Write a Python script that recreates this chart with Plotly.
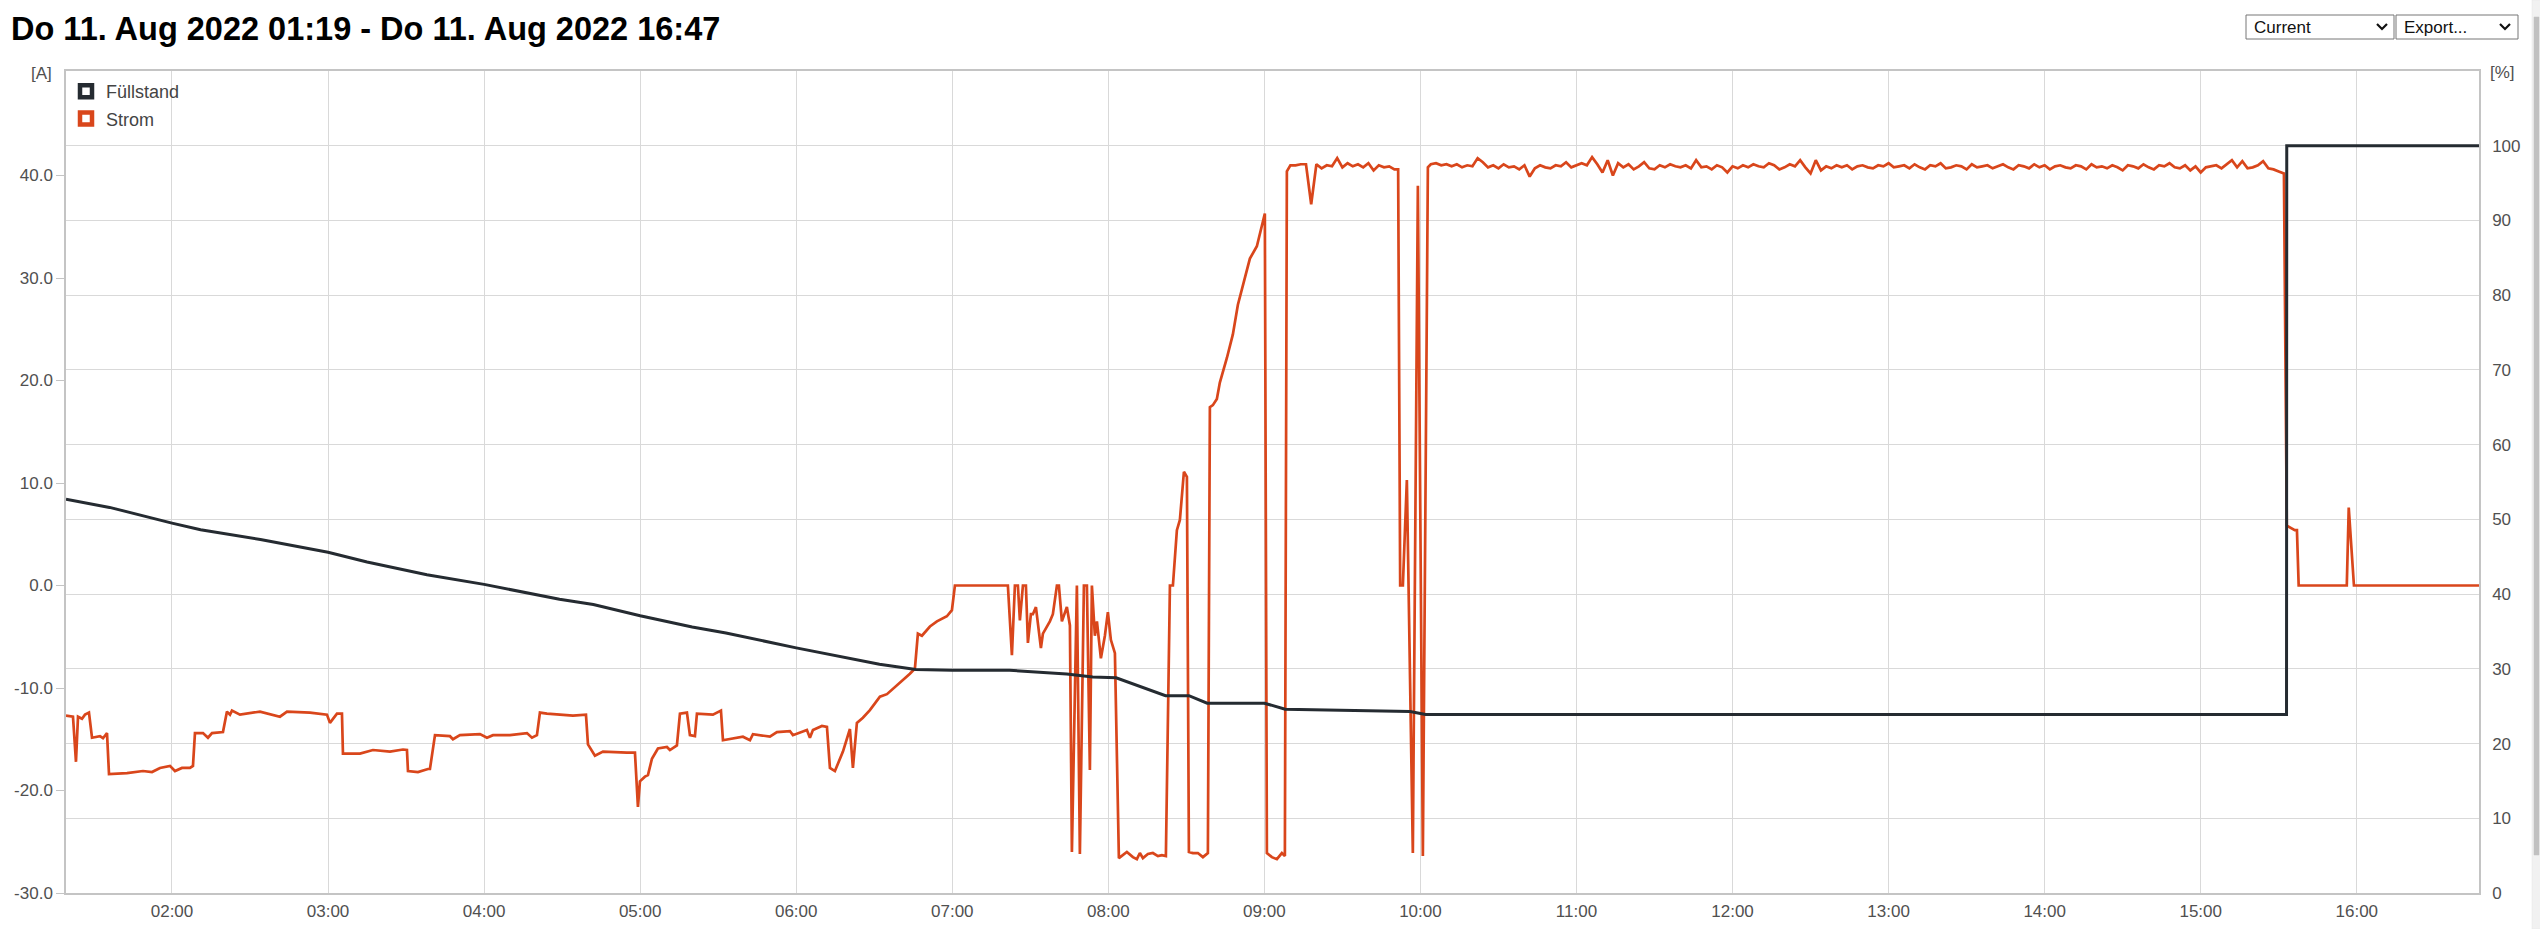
import plotly.graph_objects as go
import pandas as pd

DAY = "2022-08-11 "

# ---------------- data ----------------
fuell_time = ["01:19:15", "01:36:00", "02:00:00", "02:11:00", "02:34:00", "03:00:00", "03:15:00",
              "03:38:00", "04:00:00", "04:29:00", "04:42:00", "05:00:00", "05:20:00", "05:33:00",
              "06:00:00", "06:21:00", "06:32:00", "06:46:00", "07:00:00", "07:22:00", "07:44:00",
              "07:54:00", "08:03:00", "08:22:00", "08:31:00", "08:38:00", "09:00:00", "09:08:00",
              "09:56:00", "10:02:00", "15:33:00", "15:33:05", "16:47:00"]
fuell_value = [52.7, 51.6, 49.5, 48.6, 47.3, 45.6, 44.3,
               42.6, 41.3, 39.3, 38.6, 37.1, 35.6, 34.8,
               32.8, 31.3, 30.6, 29.9, 29.8, 29.8, 29.3,
               28.9, 28.8, 26.4, 26.4, 25.4, 25.4, 24.6,
               24.3, 23.9, 23.9, 100.0, 100.0]

strom_early_time = [
    "01:19:15", "01:21:56", "01:23:05", "01:23:52", "01:25:24", "01:26:33", "01:28:05", "01:29:15",
    "01:32:19", "01:33:28", "01:35:01", "01:35:47", "01:42:42", "01:48:51", "01:52:19", "01:55:23",
    "01:59:14", "02:01:09", "02:03:50", "02:06:55", "02:08:04", "02:08:50", "02:11:55", "02:13:50",
    "02:15:23", "02:19:36", "02:21:08", "02:22:18", "02:23:04", "02:26:08", "02:33:50", "02:41:31",
    "02:44:13", "02:53:03", "02:59:35", "03:00:44", "03:03:26", "03:05:21", "03:05:44", "03:12:17",
    "03:17:16", "03:23:49", "03:28:49", "03:30:20", "03:30:44", "03:34:34", "03:38:25", "03:39:11",
    "03:41:07", "03:46:52", "03:48:02", "03:50:43", "03:58:25", "04:01:06", "04:03:25", "04:09:56",
    "04:16:29", "04:18:24", "04:20:19", "04:21:28", "04:24:10", "04:29:10", "04:34:10", "04:39:10",
    "04:39:56", "04:42:37", "04:45:42", "04:54:55", "04:58:00", "04:59:09", "04:59:55", "05:01:50",
    "05:03:00", "05:04:32", "05:06:50", "05:10:18", "05:11:27", "05:14:08", "05:15:18", "05:17:59",
    "05:19:08", "05:21:04", "05:21:50", "05:27:59", "05:31:04", "05:31:50", "05:39:31", "05:42:13",
    "05:43:22", "05:49:54", "05:52:35", "05:57:35", "05:58:44", "06:04:07", "06:05:16", "06:06:26",
    "06:09:53", "06:11:49", "06:12:58", "06:14:53", "06:17:58", "06:20:39", "06:21:48", "06:23:20",
    "06:25:39", "06:28:20", "06:32:11", "06:34:53", "06:37:11", "06:41:02", "06:43:43", "06:45:38",
    "06:46:47", "06:48:20", "06:51:25", "06:54:06", "06:57:56", "06:59:52", "07:01:01", "07:21:23",
    "07:22:56", "07:24:05", "07:25:14", "07:26:00", "07:27:10", "07:28:19", "07:29:05", "07:30:14",
    "07:31:00", "07:32:10", "07:34:05", "07:34:51", "07:37:32", "07:38:41", "07:40:14", "07:41:00",
    "07:42:09", "07:44:04", "07:45:14", "07:46:00", "07:47:55", "07:49:04", "07:50:37", "07:51:46",
    "07:52:55", "07:53:41", "07:54:50", "07:55:37", "07:57:09", "07:58:41", "07:59:50", "08:00:59",
    "08:02:32", "08:04:04", "08:07:08", "08:09:27", "08:10:59", "08:12:08", "08:13:18", "08:15:13",
    "08:17:08", "08:19:04", "08:20:36", "08:22:08", "08:23:41", "08:24:50", "08:26:22", "08:27:31",
    "08:29:04", "08:30:13", "08:30:59", "08:32:31", "08:34:26", "08:36:22", "08:38:17", "08:39:03",
    "08:40:12", "08:41:44", "08:42:53", "08:45:35", "08:47:53", "08:49:49", "08:51:44", "08:54:26",
    "08:57:07", "08:58:16", "09:00:11", "09:00:58", "09:02:53", "09:04:49", "09:06:44", "09:07:53",
    "09:08:39"]
strom_early_value = [
    -12.7, -12.8, -17.2, -12.8, -13.0, -12.6, -12.4, -14.85,
    -14.7, -14.9, -14.4, -18.4, -18.3, -18.1, -18.2, -17.8,
    -17.6, -18.1, -17.8, -17.8, -17.6, -14.4, -14.4, -14.85,
    -14.4, -14.3, -12.3, -12.6, -12.2, -12.6, -12.3, -12.8,
    -12.3, -12.4, -12.6, -13.4, -12.5, -12.5, -16.4, -16.4,
    -16.05, -16.2, -16.0, -16.05, -18.1, -18.2, -17.9, -17.9,
    -14.6, -14.7, -15.0, -14.6, -14.5, -14.85, -14.6, -14.6,
    -14.4, -14.85, -14.6, -12.4, -12.5, -12.6, -12.7, -12.6,
    -15.5, -16.6, -16.2, -16.3, -16.3, -21.6, -19.1, -18.65,
    -18.5, -16.9, -15.9, -15.75, -16.05, -15.6, -12.5, -12.4,
    -14.6, -14.7, -12.5, -12.6, -12.2, -15.1, -14.75, -15.1,
    -14.5, -14.75, -14.3, -14.2, -14.6, -14.1, -14.85, -14.1,
    -13.7, -13.8, -17.8, -18.1, -16.2, -14.0, -17.8, -13.4,
    -12.9, -12.15, -10.85, -10.6, -10.1, -9.2, -8.6, -8.1,
    -4.7, -4.9, -4.0, -3.5, -3.0, -2.4, 0.0, 0.0,
    -6.8, 0.0, 0.0, -3.4, 0.0, 0.0, -5.6, -2.8,
    -2.8, -2.1, -6.1, -4.7, -3.5, -2.8, 0.0, 0.0,
    -3.5, -2.1, -3.9, -26.0, 0.0, -26.2, 0.0, 0.0,
    -18.0, 0.0, -4.9, -3.5, -7.1, -4.9, -2.6, -5.3,
    -6.6, -26.6, -26.0, -26.5, -26.7, -26.1, -26.6, -26.2,
    -26.1, -26.4, -26.3, -26.4, 0.0, 0.0, 5.4, 6.4,
    11.1, 10.6, -26.0, -26.1, -26.1, -26.5, -26.1, 17.4,
    17.6, 18.2, 19.8, 22.2, 24.5, 27.4, 29.3, 31.9,
    33.1, 34.25, 36.3, -26.1, -26.5, -26.7, -26.1, -26.4,
    40.4]

# 2-minute samples, 09:10 - 09:50
strom_band1_start = "09:10:00"
strom_band1_value = [41.0, 41.0, 41.1, 41.1, 37.2, 41.1, 40.7, 41.0, 40.9, 41.7,
                     40.8, 41.2, 40.9, 41.1, 40.8, 41.2, 40.5, 41.0, 40.8, 40.9,
                     40.6]

strom_mid_time = ["09:51:26", "09:52:13", "09:53:15", "09:54:47", "09:57:05", "09:59:01",
                  "10:00:56", "10:02:52"]
strom_mid_value = [40.6, 0.0, 0.0, 10.3, -26.1, 39.0, -26.4, 40.8]

# 2-minute samples, 10:04 - 15:32
strom_band2_start = "10:04:00"
strom_band2_value = [
    41.1, 41.2, 41.0, 41.1, 40.9, 41.1, 40.8, 41.0, 40.9, 41.7,
    41.3, 40.8, 41.0, 40.7, 41.1, 40.8, 40.9, 40.6, 41.0, 39.9,
    40.7, 41.0, 40.8, 40.7, 41.0, 40.9, 41.3, 40.8, 41.0, 41.2,
    41.0, 41.8, 41.1, 40.3, 41.5, 40.0, 41.2, 40.8, 41.1, 40.6,
    40.9, 41.3, 40.7, 40.6, 41.0, 40.8, 41.1, 40.9, 40.8, 41.0,
    40.7, 41.5, 40.8, 40.9, 40.6, 41.0, 40.8, 40.3, 40.9, 40.7,
    41.0, 40.8, 41.1, 40.9, 40.8, 41.2, 41.0, 40.6, 40.8, 41.1,
    40.9, 41.5, 40.8, 40.2, 41.5, 40.5, 40.9, 40.7, 41.0, 40.8,
    41.0, 40.6, 40.9, 41.0, 40.8, 40.7, 41.0, 40.9, 41.2, 40.8,
    40.9, 41.0, 40.7, 41.1, 40.8, 40.6, 41.0, 40.9, 41.2, 40.7,
    40.8, 41.0, 40.9, 40.6, 41.1, 40.8, 40.9, 41.0, 40.7, 40.9,
    41.1, 40.8, 40.6, 41.0, 40.9, 40.7, 41.1, 40.8, 41.0, 40.6,
    40.9, 41.0, 40.8, 40.7, 41.0, 40.9, 40.6, 41.1, 40.8, 40.9,
    40.7, 41.0, 40.8, 40.5, 41.0, 40.9, 40.7, 41.1, 40.8, 40.6,
    41.0, 40.9, 41.2, 40.8, 40.7, 41.0, 40.5, 40.9, 40.3, 40.8,
    40.9, 41.0, 40.7, 41.1, 41.5, 40.8, 41.4, 40.7, 40.8, 41.0,
    41.4, 40.7, 40.6, 40.4, 40.2]

strom_late_time = ["15:33:06", "15:34:20", "15:36:10", "15:37:00", "15:37:40", "15:56:10",
                   "15:56:55", "15:58:55", "16:47:00"]
strom_late_value = [5.85, 5.7, 5.4, 5.4, 0.0, 0.0, 7.6, 0.0, 0.0]

x_tick_labels = ["02:00", "03:00", "04:00", "05:00", "06:00", "07:00", "08:00", "09:00",
                 "10:00", "11:00", "12:00", "13:00", "14:00", "15:00", "16:00"]
left_tick_values = [-30, -20, -10, 0, 10, 20, 30, 40]
left_tick_labels = ["-30.0", "-20.0", "-10.0", "0.0", "10.0", "20.0", "30.0", "40.0"]
right_tick_values = [0, 10, 20, 30, 40, 50, 60, 70, 80, 90, 100]

# ---------------- assemble ----------------
def stamps(lst):
    return [pd.Timestamp(DAY + t) for t in lst]

def regular(start, n):
    return list(pd.date_range(DAY + start, periods=n, freq="2min"))

strom_x = (stamps(strom_early_time) + regular(strom_band1_start, len(strom_band1_value))
           + stamps(strom_mid_time) + regular(strom_band2_start, len(strom_band2_value))
           + stamps(strom_late_time))
strom_y = strom_early_value + strom_band1_value + strom_mid_value + strom_band2_value + strom_late_value

ORANGE = "#d9461b"
DARK = "#252b31"
GRID = "#d9d9d9"
AXIS = "#c4c4c4"
FONT = "Liberation Sans, Arial, sans-serif"
TICKC = "#505050"

W, H = 2540, 929
L, R, T, B = 66, 2479, 71, 893

def px(x):
    return (x - L) / (R - L)

def py(y):
    return (B - y) / (B - T)

fig = go.Figure()
fig.add_trace(go.Scatter(x=strom_x, y=strom_y, mode="lines", name="Strom",
                         line=dict(color=ORANGE, width=2.7), yaxis="y", showlegend=False))
fig.add_trace(go.Scatter(x=stamps(fuell_time), y=fuell_value, mode="lines", name="Füllstand",
                         line=dict(color=DARK, width=3), yaxis="y2", showlegend=False))
# legend entries
for name, col in [("Füllstand", DARK), ("Strom", ORANGE)]:
    fig.add_trace(go.Scatter(x=[None], y=[None], mode="markers", name=name, yaxis="y2",
                             legendgroup=name,
                             marker=dict(symbol="square", size=12, color="white",
                                         line=dict(color=col, width=4.5))))

fig.update_layout(
    width=W, height=H,
    margin=dict(l=L, r=W - R, t=T, b=H - B, autoexpand=False),
    paper_bgcolor="white", plot_bgcolor="white",
    font=dict(family=FONT, size=17, color=TICKC),
    xaxis=dict(type="date",
               range=[DAY + "01:19:15", DAY + "16:47:00"],
               tickvals=[DAY + t for t in x_tick_labels], ticktext=x_tick_labels,
               showgrid=True, gridcolor=GRID, gridwidth=1,
               showline=True, linecolor=AXIS, linewidth=1.5, mirror=True,
               ticks="", zeroline=False, ticklabelstandoff=2,
               tickfont=dict(size=17, color=TICKC)),
    yaxis=dict(range=[-30, 50.2], tickvals=left_tick_values, ticktext=left_tick_labels,
               showgrid=False, zeroline=False, showline=True, linecolor=AXIS, linewidth=1.5,
               ticks="outside", ticklen=8, tickcolor=AXIS, tickwidth=1.2,
               tickfont=dict(size=17, color=TICKC)),
    yaxis2=dict(range=[0, 110], tickvals=right_tick_values, overlaying="y", side="right",
                showgrid=True, gridcolor=GRID, gridwidth=1, zeroline=False,
                showline=True, linecolor=AXIS, linewidth=1.5, ticks="",
                ticklabelstandoff=8, tickfont=dict(size=17, color=TICKC)),
    legend=dict(x=px(66), y=py(73), xanchor="left", yanchor="top",
                bgcolor="rgba(0,0,0,0)", font=dict(size=18, color="#444444"),
                tracegroupgap=1, itemwidth=30),
    hovermode=False,
)

annotations = [
    dict(text="<b>Do 11. Aug 2022 01:19 - Do 11. Aug 2022 16:47</b>", x=px(9), y=py(29),
         xanchor="left", yanchor="middle", showarrow=False,
         font=dict(family=FONT, size=32.5, color="#000000")),
    dict(text="[A]", x=px(54), y=py(73), xanchor="right", yanchor="middle", showarrow=False,
         font=dict(family=FONT, size=17, color=TICKC)),
    dict(text="[%]", x=px(2488), y=py(72), xanchor="left", yanchor="middle", showarrow=False,
         font=dict(family=FONT, size=17, color=TICKC)),
    dict(text="Current", x=px(2252), y=py(27), xanchor="left", yanchor="middle", showarrow=False,
         font=dict(family=FONT, size=17, color="#111111")),
    dict(text="Export...", x=px(2402), y=py(27), xanchor="left", yanchor="middle", showarrow=False,
         font=dict(family=FONT, size=17, color="#111111")),
]
for a in annotations:
    a["xref"] = "paper"
    a["yref"] = "paper"
fig.update_layout(annotations=annotations)

shapes = []
def rect(x0, y0, x1, y1, line, fill, lw=1):
    shapes.append(dict(type="rect", xref="paper", yref="paper",
                       x0=px(x0), x1=px(x1), y0=py(y1), y1=py(y0),
                       line=dict(color=line, width=lw), fillcolor=fill, layer="above"))

def chevron(cx, cy):
    pts = [(cx - 5, cy - 3), (cx, cy + 2), (cx + 5, cy - 3)]
    path = "M " + " L ".join(f"{px(a)},{py(b)}" for a, b in pts)
    shapes.append(dict(type="path", xref="paper", yref="paper", path=path,
                       line=dict(color="#111111", width=2.2)))

rect(2246, 15, 2394, 39, "#767676", "white")
rect(2396, 15, 2518, 39, "#767676", "white")
chevron(2382, 27)
chevron(2505, 27)
# scrollbar
rect(2532, 0, 2541, 929, "#e4e4e4", "#f1f1f1", 0.5)
rect(2534, 17, 2539, 855, "#c1c1c1", "#c1c1c1", 0.5)
fig.update_layout(shapes=shapes)

fig.write_html("out.html", config={"displayModeBar": False},
               post_script="document.body.style.margin='0px';document.body.style.overflow='hidden';")
